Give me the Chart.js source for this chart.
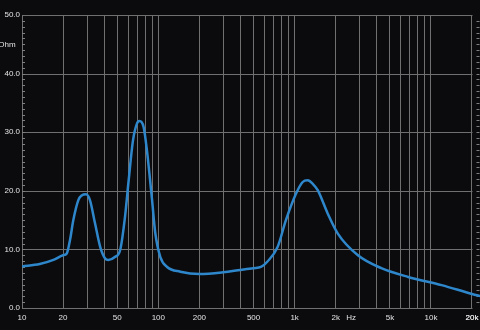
<!DOCTYPE html>
<html>
<head>
<meta charset="utf-8">
<script src="https://cdn.jsdelivr.net/npm/chart.js@4"></script>
<style>
  html, body { margin: 0; padding: 0; background: #0b0b0e; }
  #wrap { width: 480px; height: 330px; }
</style>
</head>
<body>
<div id="wrap"><canvas id="impChart" width="480" height="330"></canvas></div>
<script>
// impedance curve (Hz, Ohm)
const freqs = [10, 13.5, 17, 20, 21.3, 22.5, 23.8, 25.9, 27.4, 29.5, 31.5, 34.3, 37.5, 40.6, 43, 48, 52.5, 57, 60.6, 65.2, 69.8, 72.8, 78, 82.5, 90, 95, 103.5, 116, 145, 200, 300, 400, 500, 566, 630, 750, 863, 1023, 1146, 1247, 1358, 1477, 1750, 2074, 2913, 4325, 6800, 11970, 20000, 23300];
const ohms  = [7.1, 7.5, 8.2, 9.0, 9.3, 11.6, 15.0, 18.4, 19.2, 19.4, 18.4, 14.5, 10.4, 8.5, 8.2, 8.7, 9.9, 15.6, 21.8, 28.6, 31.5, 31.9, 30.9, 26.9, 18.4, 12.8, 8.7, 7.0, 6.2, 5.8, 6.1, 6.5, 6.8, 7.0, 7.9, 10.4, 15.0, 19.5, 21.5, 21.8, 21.2, 20.1, 16.1, 12.7, 9.0, 6.8, 5.3, 3.9, 2.4, 2.0];

// axis labels
const xTickValues = [10, 20, 50, 100, 200, 500, 1000, 2000, 2600, 5000, 10000, 20000];
const xTickLabels = ['10', '20', '50', '100', '200', '500', '1k', '2k', 'Hz', '5k', '10k', '20k'];
const yTickValues = [0, 10, 20, 30, 40, 45, 50];
const yTickLabels = ['0.0', '10.0', '20.0', '30.0', '40.0', 'Ohm\u00a0\u00a0', '50.0'];
const yGridValues = [0, 10, 20, 30, 40, 50];

const gridColor = '#707070';
const textColor = '#e2e2e2';
const xEnd = 20000;     // grid frame stops here, the curve runs on a bit
const unitTicks = { 2600: true }; // label-only tick, no grid line

// grid lines at 1..9 x 10^n plus the label ticks
function buildXTicks() {
    const vals = [];
    for (let dec = 10; dec <= 10000; dec *= 10) {
        for (let m = 1; m <= 9; m++) {
            const v = dec * m;
            if (v <= xEnd) vals.push(v);
        }
    }
    vals.push(xEnd);
    vals.push(2600);
    return vals.sort((a, b) => a - b).map(v => ({ value: v }));
}

// horizontal grid up to 20k and the little minor ticks along both edges
const frame = {
    id: 'frame',
    beforeDatasetsDraw(chart) {
        const ctx = chart.ctx;
        const y = chart.scales.y;
        const x = chart.scales.x;
        const left = chart.chartArea.left;
        const right = Math.round(x.getPixelForValue(xEnd)) + 0.5;
        ctx.save();
        ctx.strokeStyle = gridColor;
        ctx.lineWidth = 1;
        yGridValues.forEach(v => {
            const py = Math.round(y.getPixelForValue(v)) + 0.5;
            ctx.beginPath();
            ctx.moveTo(left, py);
            ctx.lineTo(right, py);
            ctx.stroke();
        });
        ctx.strokeStyle = '#808080';
        for (let v = 1; v < 50; v++) {
            const py = Math.round(y.getPixelForValue(v)) + 0.5;
            ctx.beginPath();
            ctx.moveTo(left, py);
            ctx.lineTo(left + 3, py);
            ctx.moveTo(right + 4, py);
            ctx.lineTo(right + 7, py);
            ctx.stroke();
        }
        ctx.restore();
    }
};

const ctx = document.getElementById('impChart').getContext('2d');
new Chart(ctx, {
    type: 'line',
    data: {
        datasets: [{
            data: freqs.map((f, i) => ({ x: f, y: ohms[i] })),
            borderColor: '#2f87cb',
            borderWidth: 2.5,
            pointRadius: 0,
            cubicInterpolationMode: 'monotone',
            clip: { left: 0, top: 0, right: 4, bottom: 0 }
        }]
    },
    options: {
        responsive: false,
        animation: false,
        layout: { padding: { top: 15, right: 0, left: 0, bottom: 0 } },
        plugins: { legend: { display: false }, tooltip: { enabled: false } },
        scales: {
            x: {
                type: 'logarithmic',
                min: 10,
                max: 22900,
                afterBuildTicks: (scale) => { scale.ticks = buildXTicks(); },
                afterFit: (scale) => { scale.height = 22; scale.paddingRight = 0; },
                grid: {
                    drawTicks: false,
                    color: (c) => (c.tick && unitTicks[c.tick.value]) ? 'rgba(0,0,0,0)' : gridColor,
                    lineWidth: 1
                },
                border: { display: false },
                ticks: {
                    autoSkip: false,
                    maxRotation: 0,
                    padding: 5,
                    color: textColor,
                    font: { family: 'Liberation Sans', size: 8 },
                    callback: function (value) {
                        const i = xTickValues.indexOf(value);
                        return i >= 0 ? xTickLabels[i] : '';
                    }
                }
            },
            y: {
                min: 0,
                max: 50,
                afterBuildTicks: (scale) => { scale.ticks = yTickValues.map(v => ({ value: v })); },
                afterFit: (scale) => { scale.width = 22; },
                grid: { display: false, drawTicks: false },
                border: { color: gridColor },
                ticks: {
                    padding: 2,
                    color: textColor,
                    font: { family: 'Liberation Sans', size: 8 },
                    callback: function (value) {
                        const i = yTickValues.indexOf(value);
                        return i >= 0 ? yTickLabels[i] : '';
                    }
                }
            }
        }
    },
    plugins: [frame]
});
</script>
</body>
</html>
